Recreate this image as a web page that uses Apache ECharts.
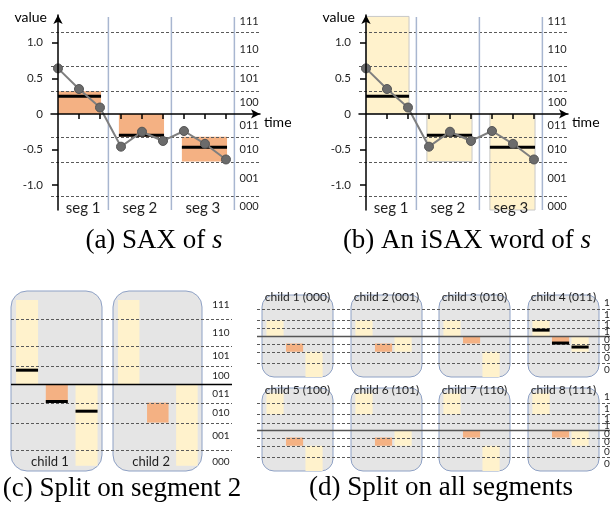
<!DOCTYPE html>
<html><head><meta charset="utf-8">
<script src="https://cdn.jsdelivr.net/npm/echarts@6/dist/echarts.min.js"></script>
<style>html,body{margin:0;padding:0;background:#fff}#c{width:610px;height:507px}</style>
</head><body><div id="c"></div><script>
// ---------------- data ----------------
const timeIdx = [0, 1, 2, 3, 4, 5, 6, 7, 8];
const seriesS = [0.64, 0.35, 0.09, -0.46, -0.25, -0.38, -0.24, -0.42, -0.64];
const segPoints = [[0, 2], [3, 5], [6, 8]];
const segNames = ['seg 1', 'seg 2', 'seg 3'];
const paa = [0.25, -0.30, -0.47];
const breakpoints = [-1.15, -0.67, -0.32, 0, 0.32, 0.67, 1.15];
const symbols = ['000', '001', '010', '011', '100', '101', '110', '111'];
const yTicks = [-1, -0.5, 0, 0.5, 1];
const yTickLabels = ['-1.0', '-0.5', '0', '0.5', '1.0'];
const saxWord = ['100', '011', '010'];
const isaxWord = ['1', '01', '0'];
const splitSeg2Names = ['child 1', 'child 2'];
const splitSeg2Words = [['1', '011', '0'], ['1', '010', '0']];
const splitAllNames = ['child 1 (000)', 'child 2 (001)', 'child 3 (010)', 'child 4 (011)',
                       'child 5 (100)', 'child 6 (101)', 'child 7 (110)', 'child 8 (111)'];
const splitAllWords = [
  ['10', '010', '00'], ['10', '010', '01'], ['10', '011', '00'], ['10', '011', '01'],
  ['11', '010', '00'], ['11', '010', '01'], ['11', '011', '00'], ['11', '011', '01']
];
const captions = ['(a) SAX of ', '(b) An iSAX word of ', '(c) Split on segment 2', '(d) Split on all segments'];

// ---------------- styles ----------------
const SANS = 'Lato, "Liberation Sans", sans-serif';
const SERIF = '"Liberation Serif", "DejaVu Serif", serif';
const COL = {orange: '#F4B183', yellow: '#FFF2CC', box: '#E5E5E5', boxLine: '#8EA1C5',
             dash: '#5a5a5a', sep: '#A8B6D0', text: '#1f1f1f'};

const grids = [], xAxes = [], yAxes = [], series = [];
function addGrid(rect, xr, yr, xExtra, yExtra) {
  const i = grids.length;
  grids.push({left: rect[0], top: rect[1], width: rect[2], height: rect[3], containLabel: false, outerBoundsMode: 'none'});
  xAxes.push(Object.assign({type: 'value', gridIndex: i, min: xr[0], max: xr[1], show: false, splitLine: {show: false}}, xExtra || {}));
  yAxes.push(Object.assign({type: 'value', gridIndex: i, min: yr[0], max: yr[1], show: false, splitLine: {show: false}}, yExtra || {}));
  return i;
}
function base(g, z) { return {type: 'custom', xAxisIndex: g, yAxisIndex: g, z: z, silent: true, animation: false}; }
function rectSeries(g, items, z) {
  return Object.assign(base(g, z), {
    encode: {x: [0, 1], y: [2, 3]},
    data: items.map(it => [it.x0, it.x1, it.y0, it.y1]),
    renderItem(params, api) {
      const it = items[params.dataIndex];
      const a = api.coord([api.value(0), api.value(3)]);
      const b = api.coord([api.value(1), api.value(2)]);
      return {type: 'rect', shape: {x: a[0], y: a[1], width: b[0] - a[0], height: b[1] - a[1], r: it.r || 0},
              style: {fill: it.fill, stroke: it.stroke || null, lineWidth: it.lw || 0}};
    }
  });
}
function barSeries(g, items, z, style) {
  return Object.assign(base(g, z), {
    encode: {x: [0, 1], y: 2},
    data: items,
    renderItem(params, api) {
      const a = api.coord([api.value(0), api.value(2)]);
      const b = api.coord([api.value(1), api.value(2)]);
      return {type: 'line', shape: {x1: a[0], y1: a[1], x2: b[0], y2: b[1]}, style: style};
    }
  });
}
function hlineSeries(g, ys, z, style) {
  return Object.assign(base(g, z), {
    encode: {x: 0, y: 1},
    data: ys.map(y => [0, y]),
    renderItem(params, api) {
      const cs = params.coordSys;
      const py = Math.round(api.coord([api.value(0), api.value(1)])[1]) + 0.5;
      return {type: 'line', shape: {x1: cs.x, y1: py, x2: cs.x + cs.width, y2: py}, style: style};
    }
  });
}
function vlineSeries(g, xs, z, style) {
  return Object.assign(base(g, z), {
    encode: {x: 0, y: 1},
    data: xs.map(x => [x, 0]),
    renderItem(params, api) {
      const cs = params.coordSys;
      const px = api.coord([api.value(0), api.value(1)])[0];
      return {type: 'line', shape: {x1: px, y1: cs.y + 2, x2: px, y2: cs.y + cs.height}, style: style};
    }
  });
}
function textSeries(g, pts, texts, style, z) {
  return Object.assign(base(g, z), {
    encode: {x: 0, y: 1},
    data: pts,
    renderItem(params, api) {
      const p = api.coord([api.value(0), api.value(1)]);
      return {type: 'text', x: p[0], y: p[1],
              style: Object.assign({text: texts[params.dataIndex], align: 'center', verticalAlign: 'middle',
                                    fill: COL.text, fontFamily: SANS, fontSize: 11}, style)};
    }
  });
}
function symRange(sym, capLo, capHi) {
  const b = sym.length, v = parseInt(sym, 2), step = 1 << (3 - b);
  const ext = [capLo].concat(breakpoints, [capHi]);
  return [ext[v * step], ext[(v + 1) * step]];
}
function symbolMids(capLo, capHi) {
  const ext = [capLo].concat(breakpoints, [capHi]);
  return symbols.map((s, i) => (ext[i] + ext[i + 1]) / 2);
}
function containsS(word) {
  return word.every((sym, k) => { const r = symRange(sym, -Infinity, Infinity); return paa[k] >= r[0] && paa[k] <= r[1]; });
}
const nonZeroBp = breakpoints.filter(b => b !== 0);

// ---------------- panels (a), (b) ----------------
const axisLineStyle = {color: '#000', width: 1.5};
function xAxisStyle() {
  return {show: true, z: 10,
    axisLine: {show: true, onZero: true, symbol: ['none', 'arrow'], symbolSize: [7, 9], lineStyle: axisLineStyle},
    axisTick: {show: true, customValues: timeIdx.slice(1), length: 5, lineStyle: axisLineStyle},
    axisLabel: {show: false}, splitLine: {show: false},
    name: 'time', nameLocation: 'end', nameGap: 4,
    nameTextStyle: {fontFamily: SANS, fontSize: 14, color: '#000', align: 'left', verticalAlign: 'top', padding: [2, 0, 0, 0]}};
}
function yAxisStyle() {
  return {show: true, z: 10,
    axisLine: {show: true, onZero: true, symbol: ['none', 'arrow'], symbolSize: [7, 9], lineStyle: axisLineStyle},
    axisTick: {show: true, customValues: yTicks.filter(v => v !== 0), length: 6, lineStyle: axisLineStyle},
    axisLabel: {show: true, customValues: yTicks, margin: 8, fontFamily: SANS, fontSize: 11.5, color: COL.text,
      formatter: v => { const i = yTicks.findIndex(t => Math.abs(t - v) < 1e-9); return i >= 0 ? yTickLabels[i] : ''; }},
    splitLine: {show: false},
    name: 'value', nameLocation: 'end', nameGap: -2,
    nameTextStyle: {fontFamily: SANS, fontSize: 14, color: '#000', align: 'right', verticalAlign: 'middle', padding: [0, 11, 0, 0]}};
}
function buildTop(left, word, bordered) {
  const yr = [-1.35, 1.39];
  const g = addGrid([left, 15, 209, 195], [-0.333, 9.62], yr, xAxisStyle(), yAxisStyle());
  const segX = segPoints.map(([s, e]) => [s === 0 ? 0 : s - 0.1, e + 0.05]);
  const seps = segPoints.map(([s, e]) => e + 0.4);
  const rects = word.map((sym, k) => {
    const r = symRange(sym, yr[0], 1.37);
    return {x0: segX[k][0], x1: segX[k][1], y0: r[0], y1: r[1],
            fill: sym.length === 3 ? COL.orange : COL.yellow,
            stroke: bordered ? '#C8C8C8' : null, lw: bordered ? 1 : 0};
  });
  series.push(rectSeries(g, rects, 1));
  series.push(hlineSeries(g, nonZeroBp, 3, {stroke: COL.dash, lineWidth: 1, lineDash: [3, 2]}));
  series.push(vlineSeries(g, seps, 3, {stroke: COL.sep, lineWidth: 1.5}));
  series.push(barSeries(g, segX.map((x, k) => [x[0], x[1], paa[k]]), 4, {stroke: '#000', lineWidth: 3}));
  series.push({type: 'line', xAxisIndex: g, yAxisIndex: g, z: 5, silent: true, animation: false,
    data: timeIdx.map((t, i) => [t, seriesS[i]]), symbol: 'circle', symbolSize: 9,
    lineStyle: {color: '#7f7f7f', width: 2}, itemStyle: {color: '#6b6b6b', borderColor: '#555', borderWidth: 1},
    emphasis: {disabled: true}});
  const segLabelX = seps.map((s, k) => ((k === 0 ? 0 : seps[k - 1]) + s) / 2);
  series.push(textSeries(g, segLabelX.map(x => [x, -1.32]), segNames, {fontSize: 15}, 6));
  const mids = symbolMids(-1.45, 1.45);
  series.push(textSeries(g, mids.map(y => [9.1, y]), symbols, {fontSize: 11}, 6));
}
buildTop(51, saxWord, false);
buildTop(359, isaxWord, true);

// ---------------- panel (c) ----------------
(function () {
  const yr = [-1.52, 1.64];
  const pg = addGrid([11, 291, 221, 180], [0, 1], yr);
  const lefts = [11, 113], widths = [91, 89];
  const xr = [-0.54, 2.52], hw = 0.37;
  splitSeg2Words.forEach((word, c) => {
    const g = addGrid([lefts[c], 291, widths[c], 180], xr, yr);
    series.push(rectSeries(g, [{x0: xr[0], x1: xr[1], y0: yr[0], y1: yr[1], r: 16, fill: COL.box, stroke: COL.boxLine, lw: 1}], 1));
    series.push(rectSeries(g, word.map((sym, k) => {
      const r = symRange(sym, -1.43, 1.48);
      return {x0: k - hw, x1: k + hw, y0: r[0], y1: r[1], fill: sym.length === 3 ? COL.orange : COL.yellow};
    }), 2));
    if (containsS(word)) series.push(barSeries(g, paa.map((v, k) => [k - hw, k + hw, v]), 5, {stroke: '#000', lineWidth: 3}));
    series.push(textSeries(g, [[0.77, -1.36]], [splitSeg2Names[c]], {fontSize: 13}, 6));
  });
  series.push(hlineSeries(pg, nonZeroBp, 3, {stroke: COL.dash, lineWidth: 1, lineDash: [3, 2]}));
  series.push(hlineSeries(pg, [0], 4, {stroke: '#000', lineWidth: 1.5}));
  series.push(textSeries(pg, symbolMids(-1.57, 1.63).map(y => [0.95, y]), symbols, {fontSize: 10}, 6));
})();

// ---------------- panel (d) ----------------
(function () {
  const rows = [{top: 295, h: 82, yr: [-1.745, 1.745]}, {top: 388, h: 83, yr: [-1.745, 1.79]}];
  const lefts = [262, 351, 439, 528];
  const xr = [-0.667, 2.97], hw = 0.44;
  rows.forEach((row, ri) => {
    const pg = addGrid([257, row.top, 353, row.h], [0, 1], row.yr);
    for (let j = 0; j < 4; j++) {
      const c = ri * 4 + j, word = splitAllWords[c];
      const g = addGrid([lefts[j], row.top, 71, row.h], xr, row.yr);
      series.push(rectSeries(g, [{x0: xr[0], x1: xr[1], y0: row.yr[0], y1: row.yr[1], r: 12, fill: COL.box, stroke: COL.boxLine, lw: 1}], 1));
      series.push(rectSeries(g, word.map((sym, k) => {
        const r = symRange(sym, row.yr[0], 1.57);
        return {x0: k - hw, x1: k + hw, y0: r[0], y1: r[1], fill: sym.length === 3 ? COL.orange : COL.yellow};
      }), 2));
      if (containsS(word)) series.push(barSeries(g, paa.map((v, k) => [k - hw, k + hw, v]), 5, {stroke: '#000', lineWidth: 3}));
      series.push(textSeries(g, [[(xr[0] + xr[1]) / 2, row.yr[1] - 0.09]], [splitAllNames[c]], {fontSize: 12}, 6));
    }
    series.push(hlineSeries(pg, nonZeroBp, 3, {stroke: COL.dash, lineWidth: 1, lineDash: [3, 2]}));
    series.push(hlineSeries(pg, [0], 4, {stroke: '#555', lineWidth: 1.5}));
    series.push(textSeries(pg, symbolMids(-1.75, 1.65).map(y => [0.983, y]), symbols, {fontSize: 10, align: 'left'}, 6));
  });
})();

// ---------------- captions ----------------
function cap(x, y, main, ital) {
  const fs = 27;
  const rich = {n: {fontFamily: SERIF, fontSize: fs, fill: '#000'}, i: {fontFamily: SERIF, fontSize: fs, fontStyle: 'italic', fill: '#000'}};
  return {type: 'text', x: x, y: y, silent: true,
    style: {text: '{n|' + main + '}' + (ital ? '{i|' + ital + '}' : ''), rich: rich, align: 'center', verticalAlign: 'middle',
            fontFamily: SERIF, fontSize: fs, fill: '#000'}};
}
const chart = echarts.init(document.getElementById('c'), null, {renderer: 'canvas'});
chart.setOption({
  animation: false,
  backgroundColor: '#fff',
  grid: grids, xAxis: xAxes, yAxis: yAxes, series: series,
  graphic: [cap(154, 241, captions[0], 's'), cap(467, 241, captions[1], 's'),
            cap(122, 489, captions[2]), cap(441, 488, captions[3])]
});
</script></body></html>
